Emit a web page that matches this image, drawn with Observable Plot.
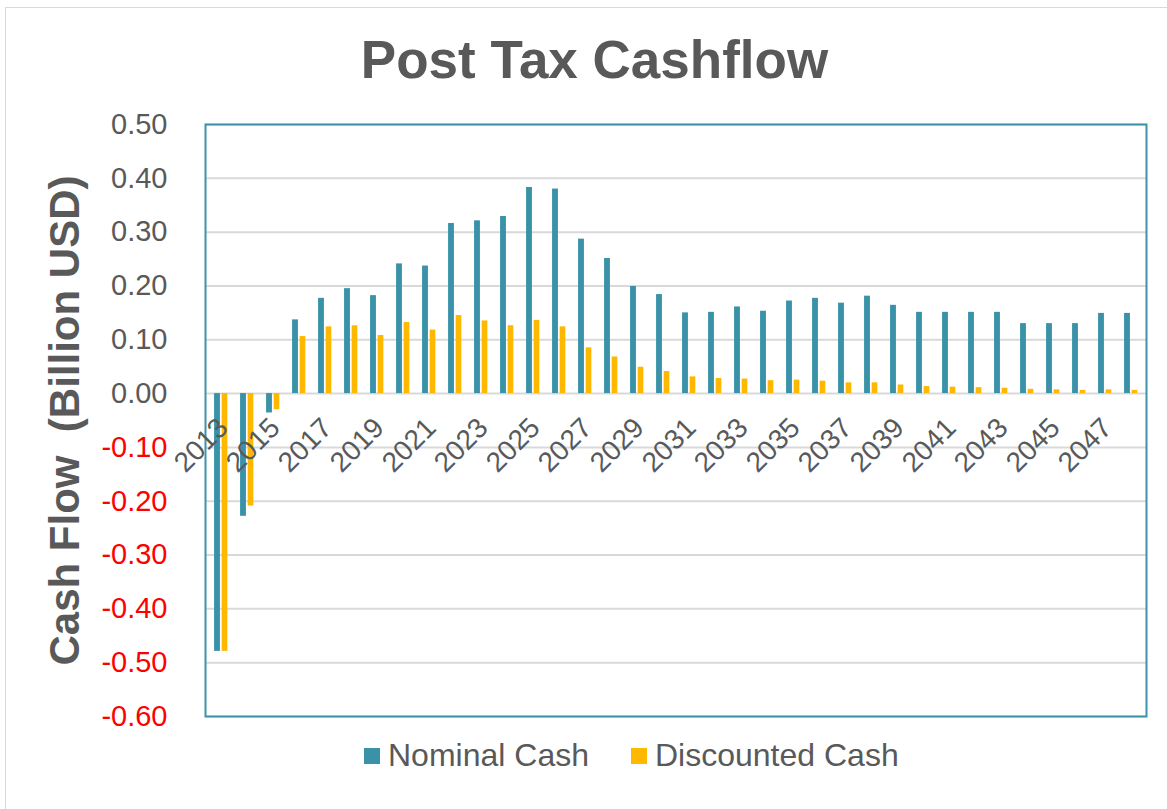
<!DOCTYPE html>
<html>
<head>
<meta charset="utf-8">
<script src="https://cdn.jsdelivr.net/npm/d3@7"></script>
<script src="https://cdn.jsdelivr.net/npm/@observablehq/plot@0.6"></script>
<style>
  html, body { margin: 0; padding: 0; background: #fff; }
  #wrap { position: relative; width: 1167px; height: 809px; overflow: hidden; font-family: "Liberation Sans", Arial, sans-serif; }
  #border { position: absolute; left: 5px; top: 7px; width: 1200px; height: 850px; border: 1px solid #D9D9D9; box-sizing: border-box; }
  #title { position: absolute; left: 0; top: 33px; width: 1189px; text-align: center; font-size: 53px; line-height: 53px; font-weight: bold; color: #595959; }
  #chart { position: absolute; left: 0; top: 100px; }
  .leg { position: absolute; top: 739px; font-size: 32px; line-height: 32px; color: #595959; white-space: nowrap; }
  .sw { position: absolute; top: 748px; width: 16px; height: 16px; }
</style>
</head>
<body>
<div id="wrap">
  <div id="border"></div>
  <div id="title">Post Tax Cashflow</div>
  <div id="chart"></div>
  <div class="sw" style="left:364px;background:#3A92A8"></div>
  <div class="leg" style="left:388px">Nominal Cash</div>
  <div class="sw" style="left:631px;background:#FFB800"></div>
  <div class="leg" style="left:655px">Discounted Cash</div>
</div>
<script>
const years = [2013, 2014, 2015, 2016, 2017, 2018, 2019, 2020, 2021, 2022, 2023, 2024,
  2025, 2026, 2027, 2028, 2029, 2030, 2031, 2032, 2033, 2034, 2035, 2036,
  2037, 2038, 2039, 2040, 2041, 2042, 2043, 2044, 2045, 2046, 2047, 2048];
const nominalCash = [-0.479, -0.228, -0.036, 0.137, 0.177, 0.195, 0.182, 0.241, 0.237, 0.316, 0.321, 0.329,
  0.383, 0.380, 0.287, 0.251, 0.199, 0.184, 0.150, 0.151, 0.161, 0.153, 0.172, 0.177,
  0.168, 0.181, 0.164, 0.151, 0.151, 0.151, 0.151, 0.130, 0.130, 0.130, 0.149, 0.149];
const discountedCash = [-0.479, -0.209, -0.030, 0.106, 0.124, 0.126, 0.108, 0.132, 0.118, 0.145, 0.135, 0.126,
  0.136, 0.124, 0.085, 0.068, 0.049, 0.041, 0.031, 0.028, 0.027, 0.024, 0.025, 0.023,
  0.020, 0.020, 0.016, 0.013, 0.012, 0.011, 0.010, 0.008, 0.007, 0.006, 0.007, 0.006];
const xTickLabels = [2013, 2015, 2017, 2019, 2021, 2023, 2025, 2027, 2029, 2031, 2033, 2035, 2037, 2039, 2041, 2043, 2045, 2047];
const yTicks = [-0.6, -0.5, -0.4, -0.3, -0.2, -0.1, 0, 0.1, 0.2, 0.3, 0.4, 0.5];
const yLabel = "Cash Flow  (Billion USD)";

const nominalRows = years.map((year, i) => ({year, value: nominalCash[i]}));
const discountedRows = years.map((year, i) => ({year, value: discountedCash[i]}));

const W = 1167, H = 640, mL = 205, mR = 21, mT = 24, mB = 24;
const bw = (W - mL - mR) / years.length;
const half = bw / 2;
const grey = "#595959";
const font = "'Liberation Sans', Arial, sans-serif";

const chart = Plot.plot({
  width: W,
  height: H,
  marginLeft: mL,
  marginRight: mR,
  marginTop: mT,
  marginBottom: mB,
  style: {fontFamily: font, background: "transparent"},
  x: {type: "band", domain: years, padding: 0, axis: null},
  y: {domain: [-0.6, 0.5], axis: null},
  marks: [
    Plot.gridY(yTicks, {stroke: "#D9D9D9", strokeOpacity: 1, strokeWidth: 2}),
    Plot.barY(nominalRows, {x: "year", y: "value", fill: "#3A92A8", insetLeft: half - 7, insetRight: half + 1}),
    Plot.barY(discountedRows, {x: "year", y: "value", fill: "#FFB800", insetLeft: half + 0.6, insetRight: half - 6.4}),
    Plot.frame({stroke: "#3D94AA", strokeWidth: 2}),
    Plot.axisY(yTicks, {
      tickSize: 0, tickPadding: 38, fontSize: 29,
      tickFormat: d => d.toFixed(2),
      fill: d => d < 0 ? "#FF0000" : grey,
      label: null
    }),
    Plot.text(xTickLabels, {
      x: d => d, y: 0, text: d => String(d),
      rotate: -45, textAnchor: "end", lineAnchor: "bottom",
      dx: 8, dy: 36, fontSize: 28, fill: grey
    }),
    Plot.text([yLabel], {
      frameAnchor: "left", dx: -140, rotate: -90,
      textAnchor: "middle", lineAnchor: "middle",
      fontSize: 42, fontWeight: "bold", fill: grey
    })
  ]
});
document.getElementById("chart").appendChild(chart);
</script>
</body>
</html>
